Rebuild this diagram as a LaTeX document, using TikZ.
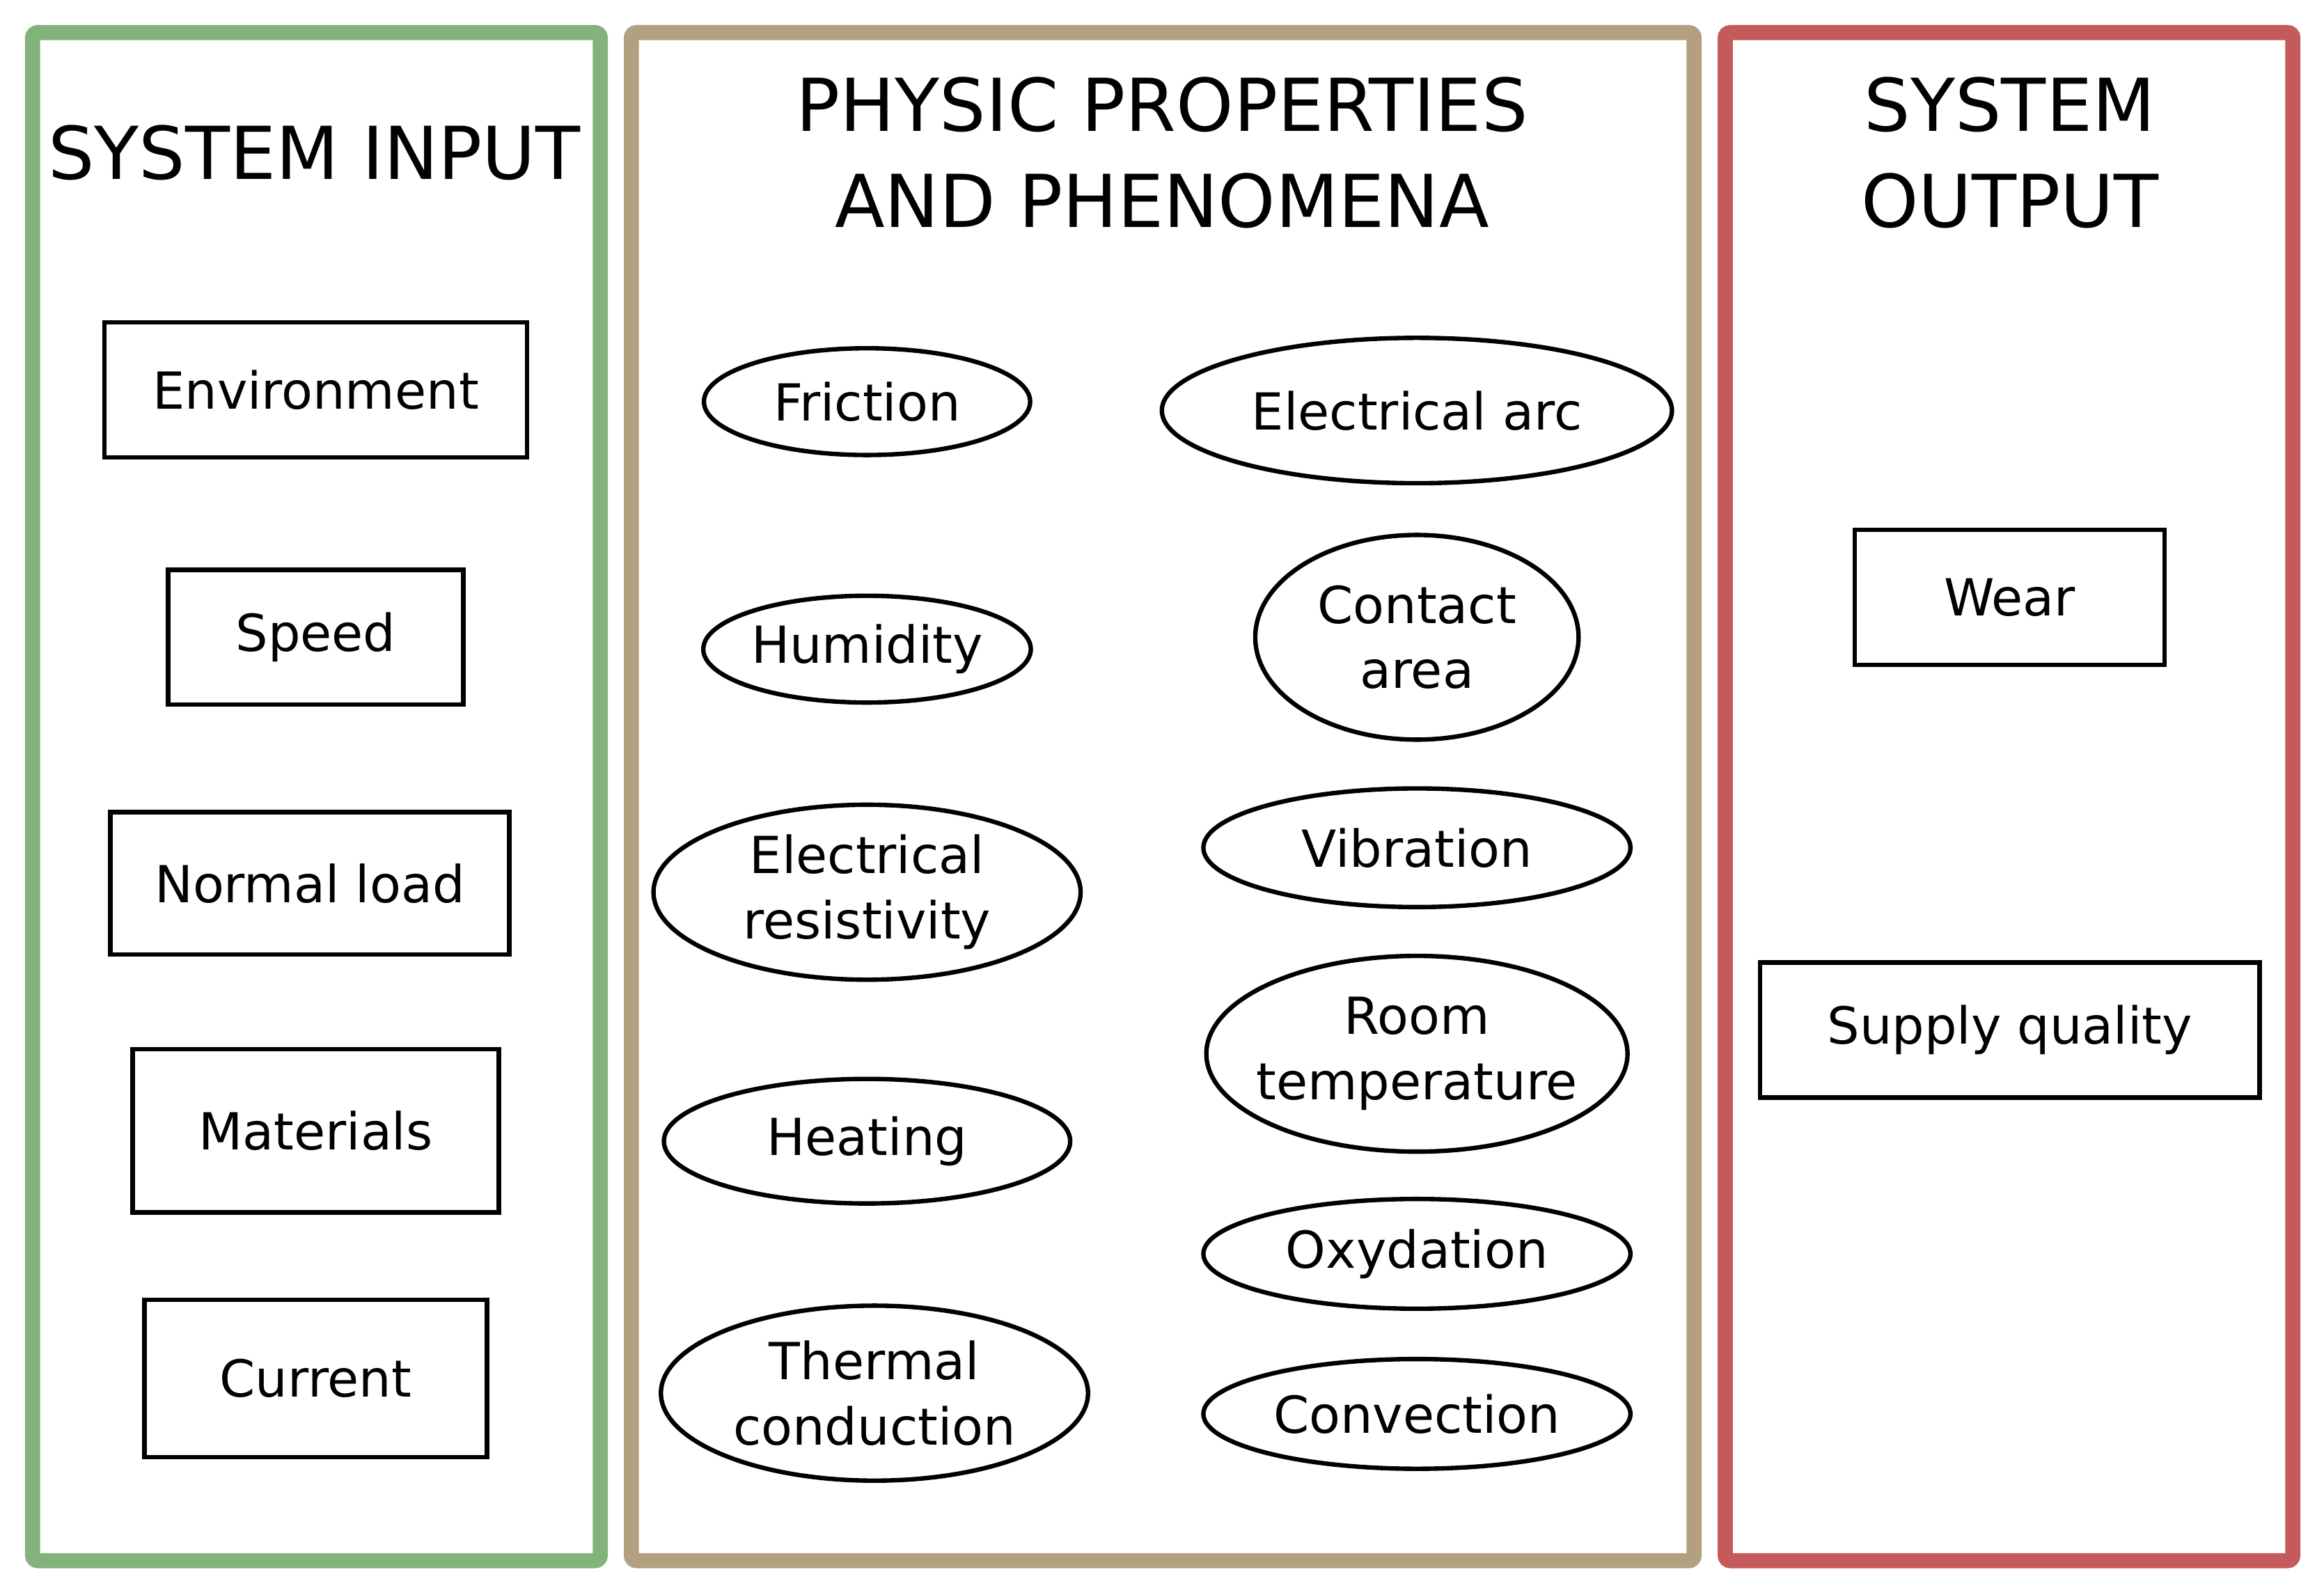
\documentclass[tikz,border=0pt]{standalone}
\usepackage{fontspec}
\setmainfont{DejaVu Sans}
\usetikzlibrary{shapes.geometric}
\definecolor{ingreen}{RGB}{130,179,122}
\definecolor{phtan}{RGB}{178,160,128}
\definecolor{outred}{RGB}{197,90,90}
\begin{document}
\begin{tikzpicture}[
x=0.01cm, y=-0.01cm,
panel/.style={draw, line width=2.9pt, rounded corners=1pt},
title/.style={align=center, font=\fontsize{14}{18.5}\selectfont},
box/.style={rectangle, draw, line width=0.85pt, inner sep=0pt, font=\fontsize{9.8}{12.5}\selectfont},
phen/.style={ellipse, draw, line width=0.85pt, inner sep=0pt, align=center, font=\fontsize{9.8}{12.5}\selectfont}
]
\useasboundingbox (0,0) rectangle (1568,1076);

% Panels
\draw[panel, ingreen] (22,22) rectangle (405,1053);
\draw[panel, phtan] (426,22) rectangle (1143,1053);
\draw[panel, outred] (1164,22) rectangle (1547,1053);

% Titles
\node (t_in) [title] at (212,103) {SYSTEM INPUT};
\node (t_ph) [title] at (784,103) {PHYSIC PROPERTIES\\AND PHENOMENA};
\node (t_out) [title] at (1356,103) {SYSTEM\\OUTPUT};

% System input
\node (environment) [box, minimum width=2.85cm, minimum height=0.91cm] at (213,263) {Environment};
\node (speed) [box, minimum width=1.99cm, minimum height=0.91cm] at (213,430) {Speed};
\node (normal_load) [box, minimum width=2.69cm, minimum height=0.96cm] at (209,596) {Normal load};
\node (materials) [box, minimum width=2.47cm, minimum height=1.1cm] at (213,763) {Materials};
\node (current) [box, minimum width=2.31cm, minimum height=1.06cm] at (213,930) {Current};

% Physic properties and phenomena
\node (friction) [phen, minimum width=2.2cm, minimum height=0.72cm] at (585,271) {Friction};
\node (humidity) [phen, minimum width=2.2cm, minimum height=0.72cm] at (585,438) {Humidity};
\node (el_resist) [phen, minimum width=2.88cm, minimum height=1.18cm] at (585,602) {Electrical\\resistivity};
\node (heating) [phen, minimum width=2.74cm, minimum height=0.84cm] at (585,770) {Heating};
\node (th_cond) [phen, minimum width=2.88cm, minimum height=1.18cm] at (590,940) {Thermal\\conduction};
\node (el_arc) [phen, minimum width=3.44cm, minimum height=0.98cm] at (956,277) {Electrical arc};
\node (contact) [phen, minimum width=2.18cm, minimum height=1.38cm] at (956,430) {Contact\\area};
\node (vibration) [phen, minimum width=2.88cm, minimum height=0.8cm] at (956,572) {Vibration};
\node (room_temp) [phen, inner xsep=-12pt, minimum width=2.84cm, minimum height=1.32cm] at (956,711) {Room\\temperature};
\node (oxydation) [phen, minimum width=2.88cm, minimum height=0.74cm] at (956,846) {Oxydation};
\node (convection) [phen, minimum width=2.88cm, minimum height=0.74cm] at (956,954) {Convection};

% System output
\node (wear) [box, minimum width=2.09cm, minimum height=0.91cm] at (1356,403) {Wear};
\node (supply) [box, minimum width=3.37cm, minimum height=0.91cm] at (1356,695) {Supply quality};

\end{tikzpicture}
\end{document}
